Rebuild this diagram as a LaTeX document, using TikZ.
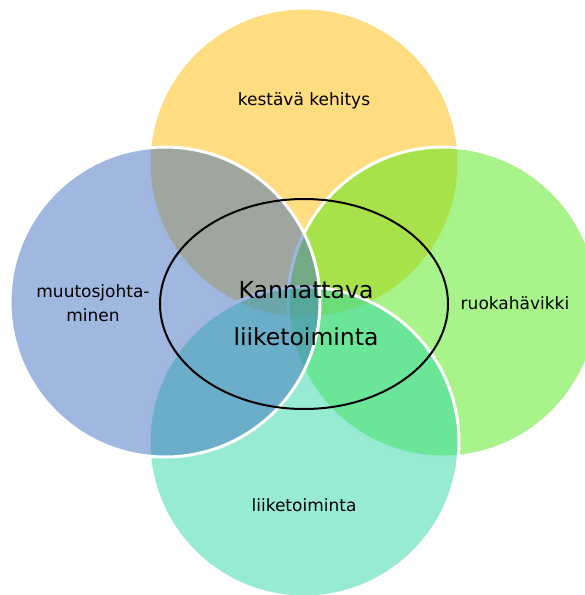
\documentclass[tikz,border=0pt]{standalone}
\usepackage{fontspec}
\setmainfont{DejaVu Sans}
\definecolor{cyel}{RGB}{255,187,1}
\definecolor{cgrn}{RGB}{81,233,21}
\definecolor{ctea}{RGB}{49,215,167}
\definecolor{cblu}{RGB}{65,113,193}
\begin{document}
\begin{tikzpicture}[x=1pt,y=-1pt,
  venn/.style={fill opacity=0.5, draw=white, draw opacity=1, line width=3pt},
  lbl/.style={font=\fontsize{17}{20}\selectfont, anchor=base, inner sep=0pt, text=black},
  big/.style={font=\fontsize{23.5}{28}\selectfont, anchor=base, inner sep=0pt, text=black}]
\useasboundingbox (0,0) rectangle (585,595);
\begin{scope}
\clip (0,0) rectangle (585,595);
\path[venn, fill=cyel] (304,163) circle[radius=155];
\path[venn, fill=cgrn] (443,302) circle[radius=155];
\path[venn, fill=ctea] (304,442) circle[radius=155];
\path[venn, fill=cblu] (165,302) circle[radius=155];
\draw[black, line width=2pt] (304,304) ellipse[x radius=144, y radius=105];
\end{scope}
\node[lbl] (kestava) at (304,105) {kestävä kehitys};
\node[lbl] (muutos1) at (93,297) {muutosjohta-};
\node[lbl] (muutos2) at (93,321) {minen};
\node[lbl] (ruoka) at (515,309) {ruokahävikki};
\node[lbl] (liike) at (304,511) {liiketoiminta};
\node[big] (kann1) at (306,298) {Kannattava};
\node[big] (kann2) at (306,345) {liiketoiminta};
\end{tikzpicture}
\end{document}
